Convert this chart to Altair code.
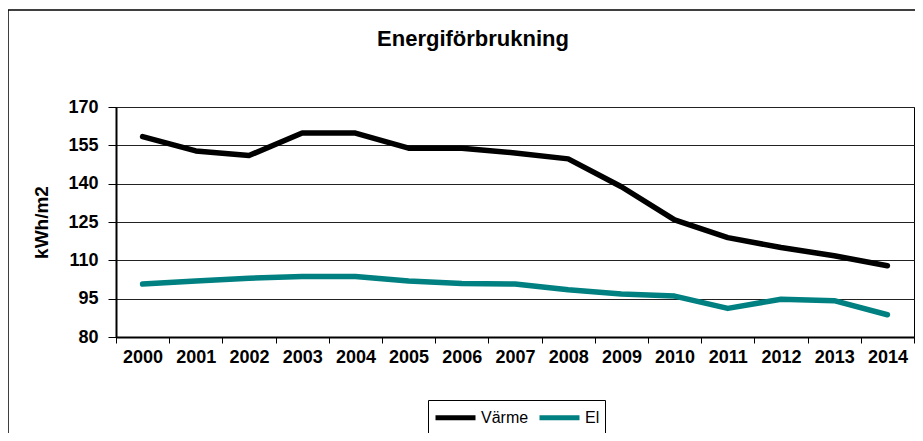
import altair as alt
import pandas as pd

years = [str(y) for y in range(2000, 2015)]
varme = [158.4, 152.8, 151.0, 159.8, 159.8, 153.9, 153.9, 152.0, 149.7, 138.8, 125.8, 118.9, 115.0, 111.8, 107.9]
el = [100.7, 101.9, 103.0, 103.7, 103.7, 101.9, 100.9, 100.7, 98.5, 96.8, 96.0, 91.2, 94.8, 94.2, 88.7]
series_names = ["Värme", "El"]
series_colors = ["#000000", "#008080"]
y_ticks = [80, 95, 110, 125, 140, 155, 170]

rows = []
for name, vals in zip(series_names, [varme, el]):
    for yr, v in zip(years, vals):
        rows.append({"År": yr, "Serie": name, "Värde": v})
df = pd.DataFrame(rows)

FONT = "Liberation Sans, Arial, sans-serif"

lines = alt.Chart(df).mark_line(strokeWidth=5.5, strokeCap="round", strokeJoin="round").encode(
    x=alt.X("År:O", bandPosition=0.5,
            scale=alt.Scale(type="band", paddingInner=0, paddingOuter=0),
            axis=alt.Axis(title=None, labelAngle=0, tickBand="extent", grid=False,
                          labelFont=FONT, labelFontSize=18, labelFontWeight="bold",
                          labelColor="#000", labelPadding=5, tickSize=6,
                          tickColor="#000", domainColor="#000", domainWidth=2)),
    y=alt.Y("Värde:Q", scale=alt.Scale(domain=[80, 170], nice=False, zero=False),
            axis=alt.Axis(title="kWh/m2", values=y_ticks, grid=True, gridColor="#222",
                          gridWidth=1, titleFont=FONT, titleFontSize=19,
                          titleFontWeight="bold", titleColor="#000", titlePadding=16,
                          labelFont=FONT, labelFontSize=18, labelFontWeight="bold",
                          labelColor="#000", labelPadding=10, tickSize=8,
                          tickColor="#000", domainColor="#000", domainWidth=2)),
    color=alt.Color("Serie:N",
                    scale=alt.Scale(domain=series_names, range=series_colors),
                    sort=series_names,
                    legend=alt.Legend(title=None, orient="none", legendX=312, legendY=293,
                                      direction="horizontal", symbolType="M-1,0H3",
                                      symbolStrokeWidth=5, symbolSize=400,
                                      labelFont=FONT, labelFontSize=16, labelColor="#000",
                                      labelOffset=23, columnPadding=0,
                                      strokeColor="#000", fillColor="#fff", padding=5)),
)

frame = alt.Chart(pd.DataFrame({"a": [0]})).mark_rect(
    fill=None, stroke="#000", strokeWidth=1.5
).encode(
    x=alt.value(-108), x2=alt.value(900), y=alt.value(-97), y2=alt.value(420)
)

chart = alt.layer(frame, lines).properties(
    width=798, height=230,
    autosize=alt.AutoSizeParams(type="none"),
    padding={"left": 108, "top": 99, "right": 1, "bottom": 96},
    title=alt.TitleParams("Energiförbrukning", font=FONT, fontSize=22, fontWeight="bold",
                          color="#000", anchor="middle", frame="group", dx=-42,
                          offset=0, dy=42),
).configure_view(stroke="#000", strokeWidth=1)

chart.save("out.html", embed_options={"renderer": "svg", "actions": False})
